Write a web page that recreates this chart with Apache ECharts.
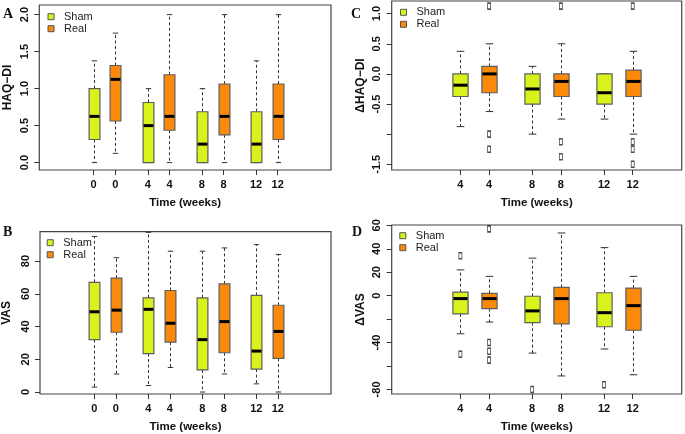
<!DOCTYPE html>
<html>
<head>
<meta charset="utf-8">
<script src="https://cdn.jsdelivr.net/npm/echarts@6/dist/echarts.min.js"></script>
<style>
html,body{margin:0;padding:0;background:#fff;}
#chart{width:685px;height:434px;}
</style>
</head>
<body>
<div id="chart"></div>
<script>
// ---- data: each box = [min, Q1, median, Q3, max] ----
const weeksAB = ['0', '4', '8', '12'];
const weeksCD = ['4', '8', '12'];
const shamPosAB = [1, 3.5, 6, 8.5];
const realPosAB = [2, 4.5, 7, 9.5];
const shamPosCD = [1, 3.5, 6];
const realPosCD = [2, 4.5, 7];

const haqSham = [[0, 0.3125, 0.625, 1.0, 1.375], [0, 0, 0.5, 0.8125, 1.0], [0, 0, 0.25, 0.6875, 1.0], [0, 0, 0.25, 0.6875, 1.375]];
const haqReal = [[0.125, 0.5625, 1.125, 1.3125, 1.75], [0, 0.4375, 0.625, 1.1875, 2.0], [0, 0.375, 0.625, 1.0625, 2.0], [0, 0.3125, 0.625, 1.0625, 2.0]];

const vasSham = [[3, 32, 49, 67, 95], [4, 23.5, 50.5, 57.5, 97.5], [0, 13.5, 32, 57.5, 86], [5, 14, 25, 59, 90]];
const vasReal = [[11, 36.5, 50, 69.5, 82], [15, 30.5, 42, 62, 86], [11, 24, 43, 66, 88], [0, 20.5, 37, 53, 84]];

const dHaqSham = [[-0.875, -0.375, -0.1875, 0, 0.375], [-1.0, -0.5, -0.25, 0, 0.125], [-0.75, -0.5, -0.3125, 0, 0]];
const dHaqReal = [[-0.625, -0.3125, 0, 0.125, 0.5], [-0.75, -0.375, -0.125, 0, 0.5], [-1.0, -0.375, -0.125, 0.0625, 0.375]];
const dHaqShamOut = [[], [], []];
const dHaqRealOut = [[1.125, -1.0, -1.25], [1.125, -1.125, -1.375], [1.125, -1.125, -1.25, -1.5]];

const dVasSham = [[-32.5, -15.5, -2.5, 3, 22], [-49, -23, -13, -0.5, 32], [-45.5, -26.5, -14.5, 2.5, 41]];
const dVasReal = [[-22.5, -11, -2.5, 2, 16.5], [-68.5, -24, -2.5, 7, 53.5], [-67.5, -29.5, -8.5, 6.5, 16.5]];
const dVasShamOut = [[34, -50], [-80], [-76]];
const dVasRealOut = [[57, -40, -47.5, -55], [], []];

const yTicksA = [0, 0.5, 1.0, 1.5, 2.0];
const yTicksB = [0, 20, 40, 60, 80];
const yTicksC = [-1.5, -1.0, -0.5, 0, 0.5, 1.0];
const yLabelsC = [-1.5, -0.5, 0, 0.5, 1.0];
const yTicksD = [-80, -60, -40, -20, 0, 20, 40, 60];
const yLabelsD = [-80, -40, 0, 20, 40, 60];

// ---- styles ----
const SHAM = '#d9f21c';
const REAL = '#fb8a0b';
const FONT = 'Liberation Sans, Arial, sans-serif';

const chart = echarts.init(document.getElementById('chart'), null, {renderer: 'canvas'});

function boxSeries(name, stats, pos, color, idx, bw) {
  return {
    type: 'custom', name: name, xAxisIndex: idx, yAxisIndex: idx,
    itemStyle: {color: color},
    data: stats.map((s, i) => [pos[i]].concat(s)),
    renderItem: function (params, api) {
      const x = api.value(0);
      const pMin = api.coord([x, api.value(1)]);
      const pQ1 = api.coord([x, api.value(2)]);
      const pMd = api.coord([x, api.value(3)]);
      const pQ3 = api.coord([x, api.value(4)]);
      const pMax = api.coord([x, api.value(5)]);
      const w = api.size([bw, 0])[0];
      const cx = Math.round(pMd[0]) + 0.5;
      const cap = w / 4;
      const dash = {stroke: '#333', lineWidth: 1, lineDash: [3, 2.5]};
      const solid = {stroke: '#333', lineWidth: 1};
      return {
        type: 'group',
        children: [
          {type: 'line', shape: {x1: cx, y1: pQ3[1], x2: cx, y2: pMax[1]}, style: dash},
          {type: 'line', shape: {x1: cx, y1: pQ1[1], x2: cx, y2: pMin[1]}, style: dash},
          {type: 'line', shape: {x1: cx - cap, y1: pMax[1], x2: cx + cap, y2: pMax[1]}, style: solid},
          {type: 'line', shape: {x1: cx - cap, y1: pMin[1], x2: cx + cap, y2: pMin[1]}, style: solid},
          {type: 'rect', shape: {x: cx - w / 2, y: pQ3[1], width: w, height: pQ1[1] - pQ3[1]},
            style: {fill: color, stroke: '#5e5e5e', lineWidth: 1.2}},
          {type: 'line', shape: {x1: cx - w / 2 + 0.5, y1: pMd[1], x2: cx + w / 2 - 0.5, y2: pMd[1]},
            style: {stroke: '#000', lineWidth: 3}}
        ]
      };
    }
  };
}

function outlierSeries(outs, pos, idx) {
  const d = [];
  outs.forEach((arr, i) => arr.forEach(v => d.push([pos[i], v])));
  return {
    type: 'scatter', name: 'outliers', xAxisIndex: idx, yAxisIndex: idx,
    symbol: 'rect', symbolSize: [3, 6], silent: true,
    itemStyle: {color: 'rgba(255,255,255,0)', borderColor: '#222', borderWidth: 1.1},
    data: d
  };
}

function xAxis(idx, min, max, shamPos, realPos, weeks) {
  const positions = [];
  const labels = [];
  weeks.forEach((w, i) => { positions.push(shamPos[i], realPos[i]); labels.push(w, w); });
  return {
    type: 'value', gridIndex: idx, min: min, max: max, position: 'bottom',
    axisLine: {show: false, onZero: false},
    splitLine: {show: false},
    axisTick: {show: true, customValues: positions, length: 5, lineStyle: {color: '#333'}},
    axisLabel: {
      customValues: positions, margin: 9, fontSize: 11, fontWeight: 'bold', color: '#111', fontFamily: FONT,
      formatter: function (v) {
        for (let i = 0; i < positions.length; i++) if (Math.abs(positions[i] - v) < 1e-6) return labels[i];
        return '';
      }
    },
    name: 'Time (weeks)', nameLocation: 'middle', nameGap: 27,
    nameTextStyle: {fontSize: 11.5, fontWeight: 'bold', color: '#111', fontFamily: FONT}
  };
}

function yAxis(idx, min, max, ticks, labels, name, dec, gap) {
  return {
    type: 'value', gridIndex: idx, min: min, max: max, position: 'left',
    axisLine: {show: false, onZero: false},
    splitLine: {show: false},
    axisTick: {show: true, customValues: ticks, length: 5, lineStyle: {color: '#333'}},
    axisLabel: {
      customValues: labels, rotate: 90, margin: 9, fontSize: 11, fontWeight: 'bold', color: '#111', fontFamily: FONT,
      formatter: v => v.toFixed(dec)
    },
    name: name, nameLocation: 'middle', nameGap: gap,
    nameTextStyle: {fontSize: 12, fontWeight: 'bold', color: '#111', fontFamily: FONT}
  };
}

function legend(left, top) {
  return {
    left: left, top: top, orient: 'vertical', padding: 0, itemGap: 0,
    itemWidth: 6, itemHeight: 6, icon: 'rect',
    data: ['Sham', 'Real'],
    itemStyle: {borderColor: '#555', borderWidth: 1},
    textStyle: {fontSize: 11, color: '#222', fontFamily: FONT, lineHeight: 12, padding: [0, 0, 0, 5]}
  };
}

const grid = {show: true, borderColor: '#444', borderWidth: 1.2, backgroundColor: '#fff'};

const option = {
  backgroundColor: '#fff',
  animation: false,
  grid: [
    Object.assign({left: 39.3, top: 5, width: 291.7, height: 165}, grid),
    Object.assign({left: 39.3, top: 231.7, width: 291.7, height: 163.6}, grid),
    Object.assign({left: 391.7, top: 1, width: 290, height: 169}, grid),
    Object.assign({left: 391.7, top: 225, width: 290, height: 170.3}, grid)
  ],
  xAxis: [
    xAxis(0, -1.51, 11.96, shamPosAB, realPosAB, weeksAB),
    xAxis(1, -1.51, 11.96, shamPosAB, realPosAB, weeksAB),
    xAxis(2, -1.39, 8.705, shamPosCD, realPosCD, weeksCD),
    xAxis(3, -1.39, 8.705, shamPosCD, realPosCD, weeksCD)
  ],
  yAxis: [
    yAxis(0, -0.1, 2.13, yTicksA, yTicksA, 'HAQ\u2212DI', 1, 26),
    yAxis(1, -1.2, 97.9, yTicksB, yTicksB, 'VAS', 0, 27),
    yAxis(2, -1.595, 1.21, yTicksC, yLabelsC, '\u0394HAQ\u2212DI', 1, 25),
    yAxis(3, -83.9, 60.3, yTicksD, yLabelsD, '\u0394VAS', 0, 25)
  ],
  legend: [legend(47.5, 10.7), legend(46.7, 236.7), legend(400, 6.3), legend(399.3, 229.7)],
  graphic: [
    {type: 'text', left: 3, top: 7, style: {text: 'A', font: 'bold 14px "Liberation Serif", serif', fill: '#111'}},
    {type: 'text', left: 3, top: 225, style: {text: 'B', font: 'bold 14px "Liberation Serif", serif', fill: '#111'}},
    {type: 'text', left: 351, top: 7, style: {text: 'C', font: 'bold 14px "Liberation Serif", serif', fill: '#111'}},
    {type: 'text', left: 352, top: 225, style: {text: 'D', font: 'bold 14px "Liberation Serif", serif', fill: '#111'}}
  ],
  series: [
    boxSeries('Sham', haqSham, shamPosAB, SHAM, 0, 0.5),
    boxSeries('Real', haqReal, realPosAB, REAL, 0, 0.5),
    boxSeries('Sham', vasSham, shamPosAB, SHAM, 1, 0.5),
    boxSeries('Real', vasReal, realPosAB, REAL, 1, 0.5),
    boxSeries('Sham', dHaqSham, shamPosCD, SHAM, 2, 0.53),
    boxSeries('Real', dHaqReal, realPosCD, REAL, 2, 0.53),
    outlierSeries(dHaqShamOut, shamPosCD, 2),
    outlierSeries(dHaqRealOut, realPosCD, 2),
    boxSeries('Sham', dVasSham, shamPosCD, SHAM, 3, 0.53),
    boxSeries('Real', dVasReal, realPosCD, REAL, 3, 0.53),
    outlierSeries(dVasShamOut, shamPosCD, 3),
    outlierSeries(dVasRealOut, realPosCD, 3)
  ]
};
chart.setOption(option);
</script>
</body>
</html>
